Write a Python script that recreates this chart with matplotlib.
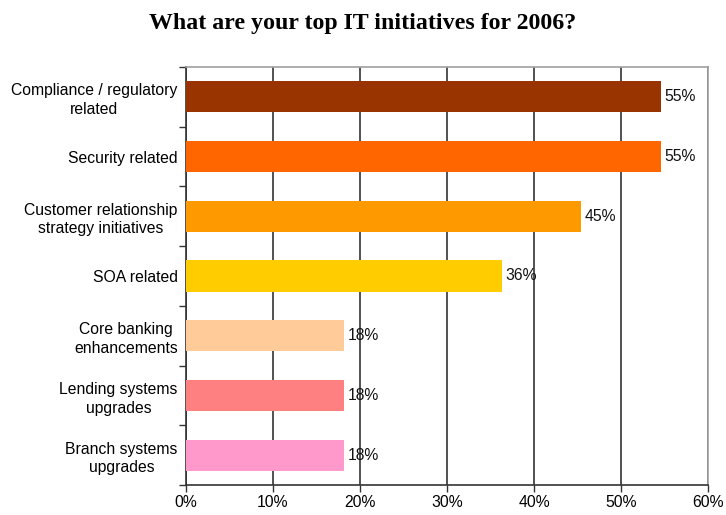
import matplotlib
matplotlib.use("Agg")
import matplotlib.pyplot as plt
import numpy as np

# Survey results: share of respondents naming each initiative (%)
categories = [
    "Compliance / regulatory\nrelated",
    "Security related",
    "Customer relationship\nstrategy initiatives",
    "SOA related",
    "Core banking\nenhancements",
    "Lending systems\nupgrades",
    "Branch systems\nupgrades",
]
values = [54.55, 54.55, 45.45, 36.36, 18.18, 18.18, 18.18]
colors = ["#993300", "#FF6600", "#FF9900", "#FFCC00", "#FFCC99", "#FF8080", "#FF99CC"]
xticks = [0, 10, 20, 30, 40, 50, 60]
xtick_labels = ["0%", "10%", "20%", "30%", "40%", "50%", "60%"]
title = "What are your top IT initiatives for 2006?"

plt.rcParams["font.family"] = ["Liberation Sans", "DejaVu Sans"]
FS = 11.3

fig = plt.figure(figsize=(7.26, 5.15), dpi=100)
ax = fig.add_axes([186 / 726, 1 - 485 / 515, (708 - 186) / 726, (485 - 67) / 515])

n = len(categories)
y = np.arange(n)
ax.barh(y, values, height=0.52, color=colors, edgecolor="none", zorder=3)

for yi, v in zip(y, values):
    ax.text(v + 0.4, yi, f"{v:.0f}%", va="center", ha="left",
            fontsize=FS, color="#111111", zorder=4)

ax.set_xlim(0, 60)
ax.set_ylim(n - 0.5, -0.5)

ax.set_xticks(xticks)
ax.set_xticklabels(xtick_labels, fontsize=FS)
ax.set_yticks(y)
ax.set_yticklabels(categories, fontsize=FS, multialignment="center",
                   linespacing=1.3)
ax.tick_params(axis="y", length=0, pad=6)
ax.tick_params(axis="x", length=5, width=1, color="#333333", pad=2)

# category separator ticks on the left axis
ax.set_yticks(np.arange(-0.5, n, 1.0), minor=True)
ax.tick_params(axis="y", which="minor", length=5, width=1, color="#333333")

ax.grid(axis="x", which="major", color="#222222", linewidth=1.1, zorder=1)
ax.set_axisbelow(True)

for side in ("top", "right"):
    ax.spines[side].set_color("#A0A0A0")
    ax.spines[side].set_linewidth(1.2)
for side in ("left", "bottom"):
    ax.spines[side].set_color("#333333")
    ax.spines[side].set_linewidth(1.2)

fig.text(0.5, 1 - 23 / 515, title, ha="center", va="center", fontsize=17.2,
         fontweight="bold", family=["Liberation Serif", "DejaVu Serif"])

fig.savefig("out.png", dpi=100)
